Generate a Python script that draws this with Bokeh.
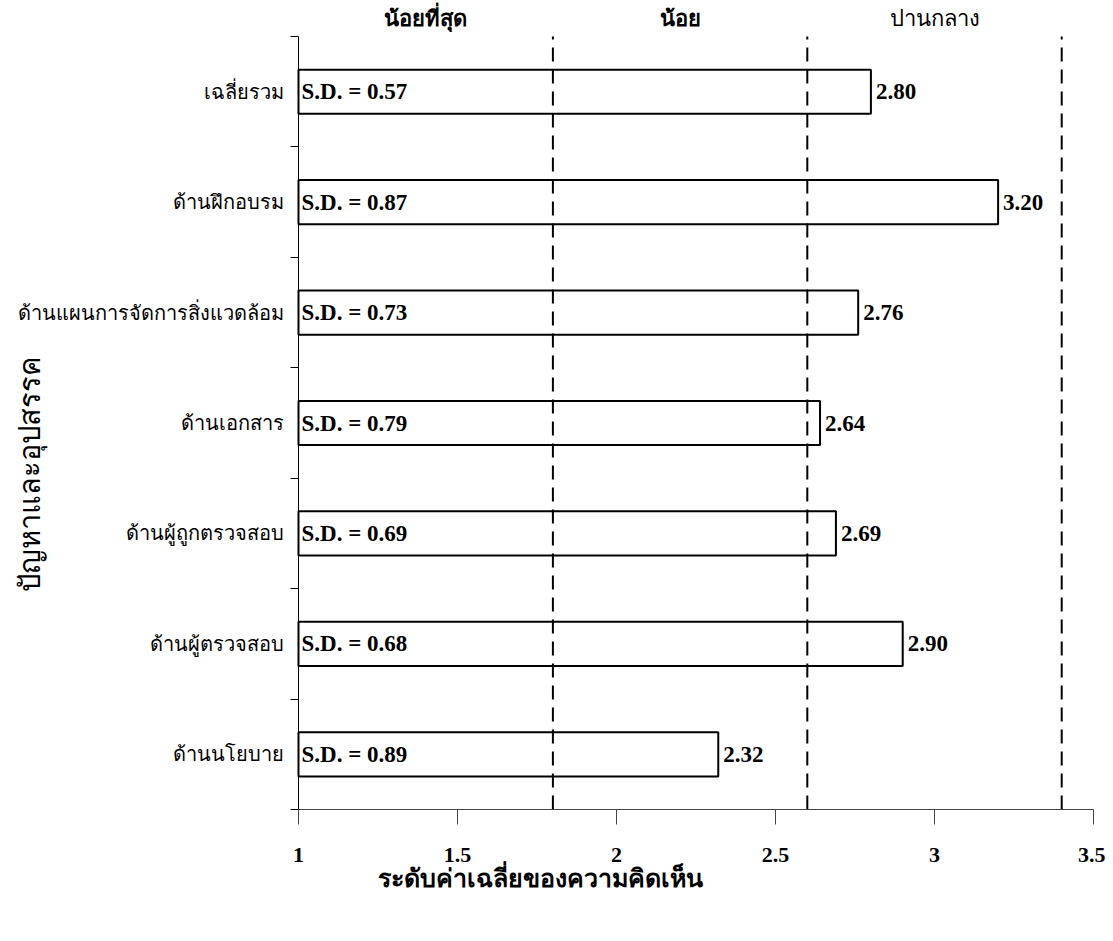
import math
from bokeh.plotting import figure
from bokeh.models import Range1d, FixedTicker, ColumnDataSource
from bokeh.core.properties import value
from bokeh.embed import file_html
from bokeh.resources import INLINE

# ---- data ----
categories = ["เฉลี่ยรวม", "ด้านฝึกอบรม", "ด้านแผนการจัดการสิ่งแวดล้อม", "ด้านเอกสาร",
              "ด้านผู้ถูกตรวจสอบ", "ด้านผู้ตรวจสอบ", "ด้านนโยบาย"]
means = [2.80, 3.20, 2.76, 2.64, 2.69, 2.90, 2.32]
sds = [0.57, 0.87, 0.73, 0.79, 0.69, 0.68, 0.89]
x_ticks = [1, 1.5, 2, 2.5, 3, 3.5]
x_tick_labels = ["1", "1.5", "2", "2.5", "3", "3.5"]
level_names = ["น้อยที่สุด", "น้อย", "ปานกลาง"]
level_bounds = [1.0, 1.8, 2.6, 3.4]
x_title = "ระดับค่าเฉลี่ยของความคิดเห็น"
y_title = "ปัญหาและอุปสรรค"

FONT = "Liberation Serif"
n = len(categories)
ypos = [n - 0.5 - i for i in range(n)]

src = ColumnDataSource(dict(
    y=ypos, mean=means, cat=categories,
    sd_label=["S.D. = %.2f" % s for s in sds],
    mean_label=["%.2f" % m for m in means],
    left=[x_ticks[0]] * n,
))

W, H = 1105, 925
p = figure(width=W, height=H, output_backend="svg", toolbar_location=None,
           x_range=Range1d(0.0629, 3.5377), y_range=Range1d(-1.0504, 7.326),
           min_border=0)
p.outline_line_color = None
p.xgrid.visible = False
p.ygrid.visible = False
p.background_fill_color = "white"
p.border_fill_color = "white"

# bars
p.hbar(y="y", left="left", right="mean", height=0.4, source=src,
       fill_color="white", line_color="black", line_width=2)

# dashed level boundaries
p.segment(x0=level_bounds[1:], y0=[0] * 3, x1=level_bounds[1:], y1=[n] * 3,
          line_color="black", line_width=2, line_dash="14 8")

# text in bars
p.text(x="left", y="y", text="sd_label", source=src, x_offset=3,
       text_align="left", text_baseline="middle",
       text_font=value(FONT), text_font_style="bold", text_font_size="23px", text_color="black")
p.text(x="mean", y="y", text="mean_label", source=src, x_offset=5,
       text_align="left", text_baseline="middle",
       text_font=value(FONT), text_font_style="bold", text_font_size="23px", text_color="black")

# x axis
xa = p.xaxis[0]
xa.fixed_location = 0
xa.bounds = (x_ticks[0], x_ticks[-1])
xa.ticker = FixedTicker(ticks=x_ticks)
xa.major_label_overrides = {t: l for t, l in zip(x_ticks, x_tick_labels)}
xa.major_tick_out = 15
xa.major_tick_in = 0
xa.minor_tick_line_color = None
xa.major_label_standoff = 23
xa.major_label_text_font = FONT
xa.major_label_text_font_style = "bold"
xa.major_label_text_font_size = "22px"
xa.major_label_text_color = "black"
xa.axis_line_color = "#444444"
xa.major_tick_line_color = "#444444"

# y axis
ya = p.yaxis[0]
ya.fixed_location = x_ticks[0]
ya.bounds = (0, n)
ya.ticker = FixedTicker(ticks=ypos, minor_ticks=list(range(n + 1)))
ya.major_label_overrides = {y: c for y, c in zip(ypos, categories)}
ya.major_tick_line_color = None
ya.major_tick_out = 0
ya.major_tick_in = 0
ya.minor_tick_out = 8
ya.minor_tick_in = 0
ya.minor_tick_line_color = "black"
ya.major_label_standoff = 7
ya.major_label_text_font = FONT
ya.major_label_text_font_size = "20px"
ya.major_label_text_color = "black"
ya.axis_line_color = "black"

# level names above the plot
centers = [(level_bounds[i] + level_bounds[i + 1]) / 2 for i in range(len(level_names))]
p.text(x=centers, y=[n + 0.163] * 3, text=level_names, text_align="center", text_baseline="middle",
       text_font=value(FONT), text_font_style=["bold", "bold", "normal"],
       text_font_size="22px", text_color="black")

# axis titles
p.text(x=[1.761], y=[-0.625], text=[x_title], text_align="center", text_baseline="middle",
       text_font=value(FONT), text_font_style="bold", text_font_size="25px", text_color="black")
p.text(x=[0.157], y=[3.03], text=[y_title], text_align="center", text_baseline="middle",
       angle=math.pi / 2,
       text_font=value(FONT), text_font_size="29px", text_color="black")

open("out.html", "w").write(file_html(p, INLINE))
